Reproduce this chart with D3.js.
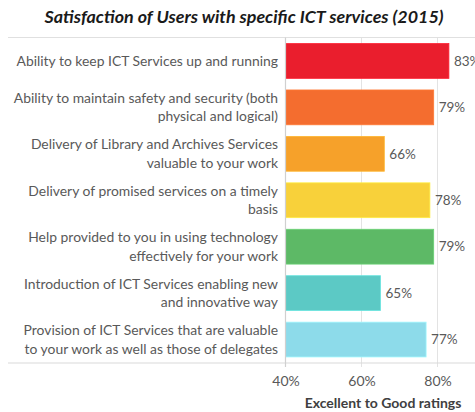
<!DOCTYPE html>
<html>
<head>
<meta charset="utf-8">
<script src="https://cdn.jsdelivr.net/npm/d3@7"></script>
<style>
  html, body { margin: 0; padding: 0; background: #fff; }
  svg { display: block; }
</style>
</head>
<body>
<svg id="chart" width="475" height="412"></svg>
<script>
const title = "Satisfaction of Users with specific ICT services (2015)";
const categories = [
  ["Ability to keep ICT Services up and running"],
  ["Ability to maintain safety and security (both", "physical and logical)"],
  ["Delivery of Library and Archives Services", "valuable to your work"],
  ["Delivery of promised services on a timely", "basis"],
  ["Help provided to you in using technology", "effectively for your work"],
  ["Introduction of ICT Services enabling new", "and innovative way"],
  ["Provision of ICT Services that are valuable", "to your work as well as those of delegates"]
];
const values = [83, 79, 66, 78, 79, 65, 77];
const tickValues = [40, 60, 80];
const axisTitle = "Excellent to Good ratings";
const palette = ["#EA1E2D", "#F46D2F", "#F6A12A", "#F8D13A", "#5DB966", "#5CC9C5", "#8DDBEA"];

const svg = d3.select("#chart");
const font = "Lato, 'Open Sans', sans-serif";
const plot = { left: 285.5, right: 475.5, top: 37.5, bottom: 363 };

const x = d3.scaleLinear().domain([40, 90]).range([plot.left, plot.right]);
const y = d3.scaleBand().domain(d3.range(categories.length))
  .range([plot.top, plot.bottom]).paddingInner(0.25).paddingOuter(0.13);

// title
svg.append("text")
  .attr("x", 244).attr("y", 23)
  .attr("text-anchor", "middle")
  .style("font-family", font).style("font-weight", "bold").style("font-style", "italic")
  .style("font-size", "17.9px").style("fill", "#1a1a1a")
  .text(title);

// gridlines
svg.append("g").selectAll("line").data(tickValues.slice(1)).join("line")
  .attr("x1", d => x(d)).attr("x2", d => x(d))
  .attr("y1", plot.top).attr("y2", plot.bottom + 4)
  .attr("stroke", "#e3e3e3").attr("stroke-width", 1);

// top and bottom horizontal lines
svg.append("line").attr("x1", 8).attr("x2", 475).attr("y1", plot.top).attr("y2", plot.top)
  .attr("stroke", "#e0e0e0").attr("stroke-width", 1.2);
svg.append("line").attr("x1", 8).attr("x2", 475).attr("y1", plot.bottom).attr("y2", plot.bottom)
  .attr("stroke", "#d9d9d9").attr("stroke-width", 1.2);

// bars
svg.append("g").selectAll("rect").data(values).join("rect")
  .attr("x", x(40))
  .attr("y", (d, i) => y(i))
  .attr("width", d => x(d) - x(40))
  .attr("height", y.bandwidth())
  .attr("fill", (d, i) => palette[i])
  .attr("stroke", (d, i) => d3.color(palette[i]).brighter(0.35))
  .attr("stroke-width", 0.8);

// value labels
svg.append("g").selectAll("text").data(values).join("text")
  .attr("x", d => x(d) + 5)
  .attr("y", (d, i) => y(i) + y.bandwidth() / 2)
  .attr("dy", "0.35em")
  .style("font-family", font).style("font-size", "13.5px").style("fill", "#595959")
  .text(d => d + "%");

// y axis line
svg.append("line").attr("x1", x(40)).attr("x2", x(40))
  .attr("y1", plot.top).attr("y2", plot.bottom + 4)
  .attr("stroke", "#d0d0d0").attr("stroke-width", 1.2);

// category labels
const lineH = 18.5;
const lab = svg.append("g").selectAll("text").data(categories).join("text")
  .attr("text-anchor", "end")
  .style("font-family", font).style("font-size", "13.9px").style("fill", "#595959");
lab.each(function (lines, i) {
  const cy = y(i) + y.bandwidth() / 2;
  const t = d3.select(this);
  lines.forEach((ln, k) => {
    t.append("tspan")
      .attr("x", 278)
      .attr("y", cy + (k - (lines.length - 1) / 2) * lineH)
      .attr("dy", "0.35em")
      .text(ln);
  });
});

// x axis tick labels
const xAxis = d3.axisBottom(x).tickValues(tickValues).tickFormat(d => d + "%").tickSize(0).tickPadding(0);
const gx = svg.append("g").attr("transform", `translate(0,${plot.bottom})`).call(xAxis);
gx.select(".domain").remove();
gx.selectAll("text")
  .attr("y", 18.5).attr("dy", "0.35em")
  .style("font-family", font).style("font-size", "14px").style("fill", "#595959");

// axis title
svg.append("text")
  .attr("x", 383).attr("y", 403).attr("dy", "0.35em")
  .attr("text-anchor", "middle")
  .style("font-family", font).style("font-weight", "bold")
  .style("font-size", "14px").style("fill", "#404040")
  .text(axisTitle);
</script>
</body>
</html>
